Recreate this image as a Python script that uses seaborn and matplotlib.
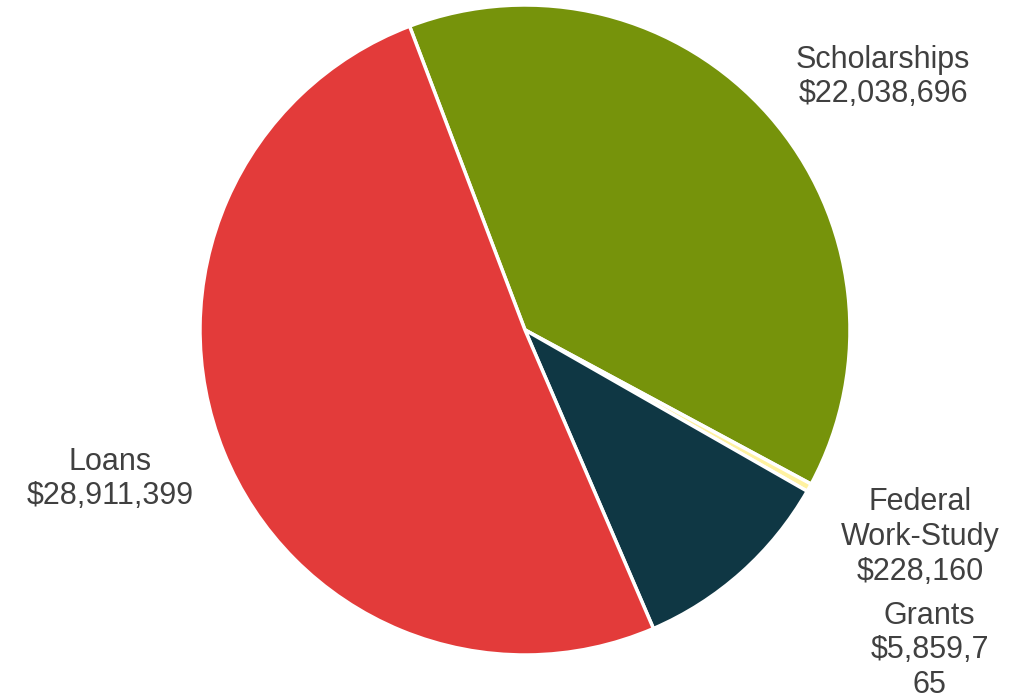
import matplotlib
matplotlib.use("Agg")
import matplotlib.pyplot as plt
import seaborn as sns

# Financial aid by source
categories = ["Scholarships", "Federal\nWork-Study", "Grants", "Loans"]
amounts = [22038696, 228160, 5859765, 28911399]
label_texts = [
    "Scholarships\n$22,038,696",
    "Federal\nWork-Study\n$228,160",
    "Grants\n$5,859,7\n65",
    "Loans\n$28,911,399",
]
colors = ["#76930B", "#FFF2A0", "#0F3744", "#E33B3A"]

sns.set_theme(style="white")
plt.rcParams["font.family"] = ["Liberation Sans", "DejaVu Sans"]

fig = plt.figure(figsize=(10.28, 7.0), dpi=100)
ax = fig.add_axes([0, 0, 1, 1])

ax.pie(
    amounts,
    colors=colors,
    startangle=110.8,
    counterclock=False,
    radius=1.0,
    wedgeprops=dict(edgecolor="white", linewidth=2.5),
)

# label placement (center of each text block, in pie-radius units)
label_pos = [(1.102, 0.778), (1.215, -0.637), (1.245, -0.985), (-1.277, -0.458)]
for (x, y), txt in zip(label_pos, label_texts):
    ax.text(x, y, txt, ha="center", va="center", fontsize=22,
            color="#404040", linespacing=1.2)

ax.set_xlim(-525 / 325, 503 / 325)
ax.set_ylim(-370 / 325, 330 / 325)
ax.set_aspect("equal")
ax.axis("off")

fig.savefig("out.png", dpi=100, facecolor="white")
